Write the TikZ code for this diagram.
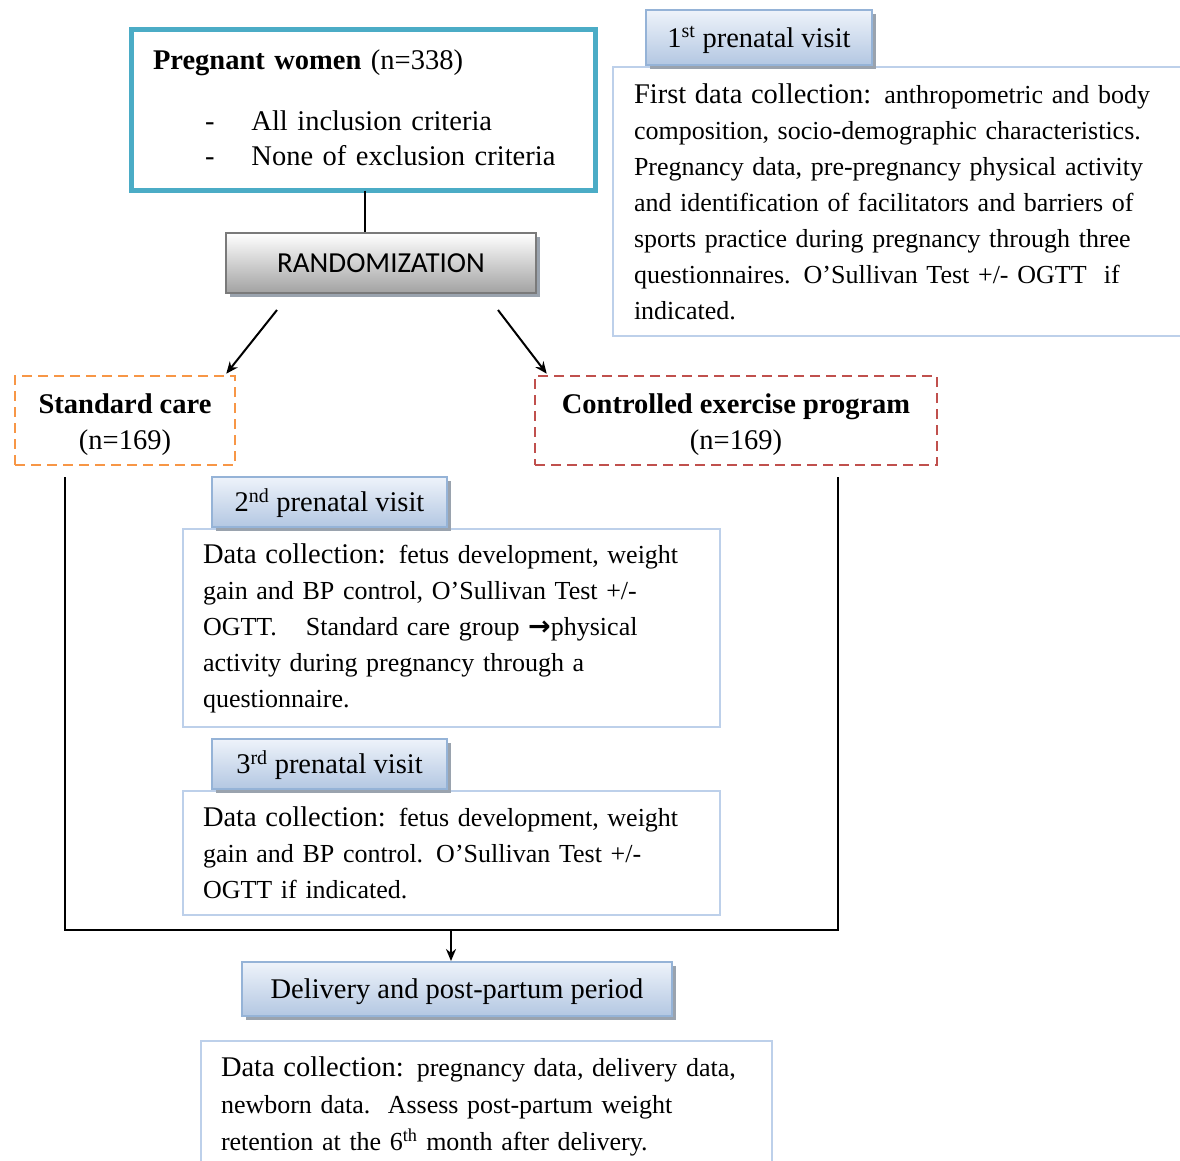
\documentclass[tikz,border=0pt]{standalone}
\usepackage{fontspec}
\setmainfont{Liberation Serif}
\newfontfamily\calibfont{Carlito}
\newfontfamily\arrowfont{DejaVu Sans}
\usetikzlibrary{arrows.meta,shadows,calc}
\definecolor{pregteal}{HTML}{4BACC6}
\definecolor{stdorange}{HTML}{F79646}
\definecolor{ctrlred}{HTML}{C0504D}
\definecolor{hdtop}{HTML}{EEF3FA}
\definecolor{hdbot}{HTML}{B3C7E2}
\definecolor{hdborder}{HTML}{95B3D7}
\definecolor{hdshadow}{HTML}{9AA3AE}
\definecolor{dboxcol}{HTML}{BDD0EA}
\definecolor{randborder}{HTML}{7A7A7A}
\definecolor{randbot}{HTML}{A2A2A2}
\newcommand\biglbl[1]{{\fontsize{28.5}{36}\selectfont #1}}
\tikzset{
  pregbox/.style={draw=pregteal, line width=5pt, fill=white, align=left,
    font=\fontsize{28.5}{35}\selectfont},
  randbox/.style={draw=randborder, line width=2.5pt, top color=white, bottom color=randbot,
    drop shadow={shadow xshift=4pt, shadow yshift=-4pt, fill=hdshadow, opacity=1},
    font=\calibfont\fontsize{29}{32}\selectfont},
  grpbox/.style={dashed, dash pattern=on 10pt off 6pt, line width=2.5pt, fill=white, align=center,
    font=\fontsize{28.5}{36}\selectfont},
  hdrbox/.style={draw=hdborder, line width=2pt, top color=hdtop, bottom color=hdbot,
    drop shadow={shadow xshift=4pt, shadow yshift=-4pt, fill=hdshadow, opacity=1},
    font=\fontsize{28.5}{34}\selectfont, inner sep=0pt, text height=19pt, text depth=0pt},
  databox/.style={draw=dboxcol, line width=2pt, fill=white, align=left, anchor=north west,
    inner ysep=0pt, font=\fontsize{26}{36}\selectfont},
  conn/.style={line width=1.8pt, black},
  arr/.style={line width=2pt, black, -{Stealth[length=12pt,width=10pt]}}
}
\begin{document}
\begin{tikzpicture}[x=1pt,y=1pt]
\useasboundingbox (0,0) rectangle (1180,-1160);
\clip (0,0) rectangle (1180,-1160);
\fill[white] (0,0) rectangle (1180,-1160);

% Pregnant women
\node[pregbox, anchor=north west, minimum width=464pt, minimum height=161pt,
  text width=421pt, inner xsep=21.5pt, inner ysep=0pt, outer sep=0pt] (preg) at (131.5,-29.5)
  {\textbf{Pregnant women} (n=338)\\[26pt]
   \hspace*{52pt}-\hspace{37pt}All inclusion criteria\\
   \hspace*{52pt}-\hspace{37pt}None of exclusion criteria\rule[-4pt]{0pt}{4pt}};

% Randomization
\node[randbox, minimum width=310pt, minimum height=60pt] (rand) at (381,-263) {RANDOMIZATION};
\coordinate (cx) at (365,0);
\draw[conn] (preg.south -| cx) -- (rand.north -| cx);

% Groups
\node[grpbox, draw=stdorange, minimum width=220pt, minimum height=89pt] (std) at (125,-420.5)
  {\rule{0pt}{28pt}\textbf{Standard care}\\(n=169)};
\node[grpbox, draw=ctrlred, minimum width=402pt, minimum height=89pt] (ctrl) at (736,-420.5)
  {\rule{0pt}{28pt}\textbf{Controlled exercise program}\\(n=169)};
\coordinate (s1) at (277,-310);
\coordinate (s2) at (498,-310);
\draw[arr] (s1) -- ([xshift=-10pt,yshift=1pt]std.north east);
\draw[arr] (s2) -- ([xshift=13pt,yshift=1pt]ctrl.north west);

% 1st prenatal visit
\node[databox, minimum width=580pt, minimum height=269pt, text width=538pt, inner xsep=21pt] (d1) at (612,-66)
  {\biglbl{First data collection:} anthropometric and body\\
   composition, socio-demographic characteristics.\\
   Pregnancy data, pre-pregnancy physical activity\\
   and identification of facilitators and barriers of\\
   sports practice during pregnancy through three\\
   questionnaires. O’Sullivan Test +/- OGTT\ \ if\\
   indicated.};
\node[hdrbox, minimum width=226pt, minimum height=55pt] (h1) at (759,-37.5)
  {1\textsuperscript{st} prenatal visit};

% Bracket lines
\coordinate (bl) at (65,-477);
\coordinate (br) at (838,-477);
\coordinate (bm) at (451,-930);
\draw[conn] (bl) |- (br |- bm) -- (br);

% 2nd prenatal visit
\node[databox, minimum width=537pt, minimum height=198pt, text width=497pt, inner xsep=20pt] (d2) at (182,-528)
  {\biglbl{Data collection:} fetus development, weight\\
   gain and BP control, O’Sullivan Test +/-\\
   OGTT.\hspace{29pt}Standard care group {\arrowfont\bfseries\fontsize{27}{36}\selectfont →}physical\\
   activity during pregnancy through a\\
   questionnaire.};
\node[hdrbox, minimum width=235pt, minimum height=50pt] (h2) at (329.5,-502)
  {2\textsuperscript{nd} prenatal visit};

% 3rd prenatal visit
\node[databox, minimum width=537pt, minimum height=124pt, text width=497pt, inner xsep=20pt] (d3) at (182,-790)
  {\biglbl{Data collection:} fetus development, weight\\
   gain and BP control. O’Sullivan Test +/-\\
   OGTT if indicated.};
\node[hdrbox, minimum width=235pt, minimum height=50pt] (h3) at (329.5,-764)
  {3\textsuperscript{rd} prenatal visit};

% Delivery
\node[hdrbox, minimum width=430pt, minimum height=54pt] (dh) at (457,-989)
  {Delivery and post-partum period};
\draw[arr] (bm) -- (dh.north -| bm);
\node[databox, minimum width=571pt, minimum height=131pt, text width=531pt, inner xsep=20pt,
  font=\fontsize{26}{37}\selectfont] (d4) at (200,-1040)
  {\biglbl{Data collection:} pregnancy data, delivery data,\\
   newborn data.\ \ Assess post-partum weight\\
   retention at the 6\textsuperscript{th} month after delivery.};
\end{tikzpicture}
\end{document}
